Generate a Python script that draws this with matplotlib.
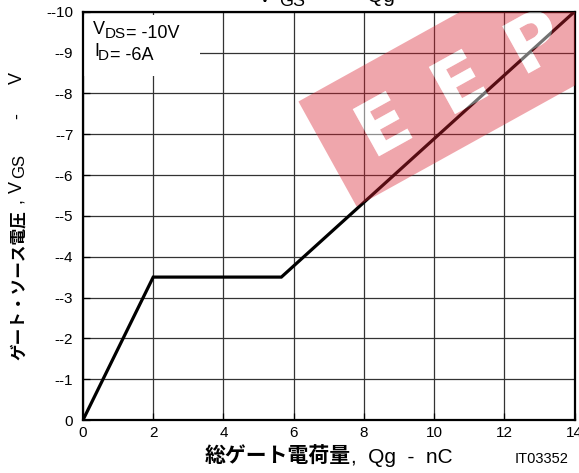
import matplotlib
matplotlib.use('Agg')
import matplotlib.pyplot as plt
import matplotlib.transforms as mtransforms
from matplotlib.textpath import TextPath
from matplotlib.font_manager import FontProperties
from matplotlib.path import Path
from matplotlib.patches import PathPatch, Rectangle

# ---- data ----
qg = [0, 2, 5.65, 14]
vgs = [0, -3.5, -3.5, -10]
x_ticks = [0, 2, 4, 6, 8, 10, 12, 14]
x_tick_labels = ["0", "2", "4", "6", "8", "10", "12", "14"]
y_ticks = [0, -1, -2, -3, -4, -5, -6, -7, -8, -9, -10]
y_tick_labels = ["0", "--1", "--2", "--3", "--4", "--5", "--6", "--7", "--8", "--9", "--10"]

plt.rcParams['font.family'] = ['Liberation Sans', 'DejaVu Sans']
LAT = ['Liberation Sans', 'DejaVu Sans']
CJK = ['Noto Sans CJK JP', 'DejaVu Sans']

W, H = 579, 473
fig = plt.figure(figsize=(W / 100, H / 100), dpi=100)
ax = fig.add_axes([83 / W, 1 - 420 / H, (574.5 - 83) / W, (420 - 11.7) / H])

ax.plot(qg, vgs, color='black', lw=2.3, zorder=2, solid_joinstyle='miter')
ax.set_xticks(x_ticks)
ax.set_xticklabels(x_tick_labels)
ax.set_yticks(y_ticks)
ax.set_yticklabels(y_tick_labels)
ax.grid(True, color='#333333', lw=0.9)
ax.set_axisbelow(True)
for s in ax.spines.values():
    s.set_linewidth(1.6)
    s.set_color('black')
ax.tick_params(direction='in', length=5, width=0.9, labelsize=11, colors='black')
ax.tick_params(axis='x', pad=4)
ax.tick_params(axis='y', pad=7)

# white box behind the condition text
ax.add_patch(Rectangle((0, 0.843), 0.238, 0.149, transform=ax.transAxes,
                       facecolor='white', edgecolor='none', zorder=1))


def put(x, y, s, size, rot=0, weight='normal', family=LAT, z=8):
    fig.text(x / W, 1 - y / H, s, fontsize=size, rotation=rot, rotation_mode='anchor',
             ha='left', va='baseline', fontweight=weight, family=family, zorder=z)


# condition text
put(93, 34.5, "V", 13)
put(104.5, 38.5, "DS", 11)
put(126.5, 38.5, "= -10V", 13)
put(94, 56.5, "I", 13)
put(98, 60, "D", 11)
put(110.5, 60, "= -6A", 13)

# clipped title
put(258, 1.5, "V", 15)
put(279, 5.5, "GS", 13)
put(367, 2.5, "Qg", 15)

# x label
put(205, 463, "総ゲート電荷量", 15, weight='bold', family=CJK)
put(351, 463, ",  Qg  -  nC", 15)
put(515, 463, "IT03352", 10.5)

# y label (rotated)
put(23.5, 360, "ゲート・ソース電圧", 12, weight='bold', family=CJK, rot=90)
put(22, 203, ",", 13, rot=90)
put(22, 193, "V", 13, rot=90)
put(24, 178, "GS", 12, rot=90)
put(22, 119, "-", 13, rot=90)
put(22, 84, "V", 13, rot=90)

# watermark band with letter cut-outs
fp = FontProperties(family='DejaVu Sans', weight='bold')
letters = "EEPW"
centers = [63, 150, 237, 324]
paths = []
for ch, t in zip(letters, centers):
    tp = TextPath((0, 0), ch, size=74, prop=fp)
    ext = tp.get_extents()
    cx = (ext.x0 + ext.x1) / 2
    cy = (ext.y0 + ext.y1) / 2
    paths.append(Path(tp.vertices - [cx - t, cy], tp.codes))
letters_path = Path.make_compound_path(*paths)
rect = Path([(0, -60), (520, -60), (520, 60), (0, 60), (0, -60)],
            [Path.MOVETO, Path.LINETO, Path.LINETO, Path.LINETO, Path.CLOSEPOLY])
band = Path.make_compound_path(rect, letters_path)
tr = mtransforms.Affine2D().rotate_deg(29).translate(327.5, 319)
bp = PathPatch(band, facecolor=(0.85, 0.13, 0.19), alpha=0.4, lw=0, transform=tr, zorder=5)
ax.add_artist(bp)
lp = PathPatch(letters_path, facecolor='white', alpha=0.45, lw=0, transform=tr, zorder=5.1)
ax.add_artist(lp)

ax.set_xlim(0, 14)
ax.set_ylim(0, -10)

fig.savefig('out.png', dpi=100)
